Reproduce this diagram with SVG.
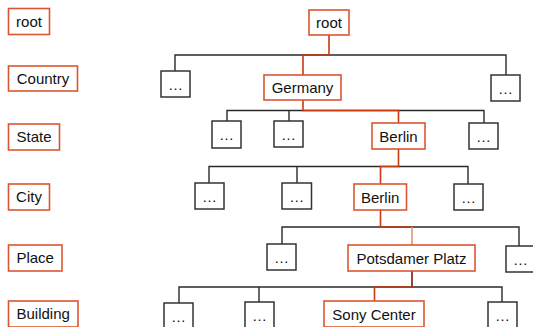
<svg xmlns="http://www.w3.org/2000/svg" width="533" height="327" viewBox="0 0 533 327">
<style>
.lbl{fill:#fff;stroke:#db5530;stroke-width:1.6}
.node{fill:#fff;stroke:#db5530;stroke-width:1.6}
.dots{fill:#fff;stroke:#333;stroke-width:1.5}
text{font-family:"Liberation Sans",Arial,sans-serif;font-size:15px;fill:#111;text-anchor:middle}
.tl{text-anchor:start}
.edge{fill:none;stroke:#2a2a2a;stroke-width:1.4}
.hot{fill:none;stroke:#c83a10;stroke-width:1.6}
</style>
<g id="levels">
<g id="lvl-root"><rect class="lbl" x="8.5" y="8.5" width="41" height="26"/><text x="29" y="26.5">root</text></g>
<g id="lvl-country"><rect class="lbl" x="8.5" y="66" width="69" height="25"/><text x="43" y="83.5">Country</text></g>
<g id="lvl-state"><rect class="lbl" x="8.5" y="124" width="51" height="26"/><text x="34" y="142">State</text></g>
<g id="lvl-city"><rect class="lbl" x="8.5" y="184" width="41" height="26"/><text x="29" y="202">City</text></g>
<g id="lvl-place"><rect class="lbl" x="8.5" y="245" width="53.5" height="26"/><text x="35.2" y="263">Place</text></g>
<g id="lvl-building"><rect class="lbl" x="8.5" y="301" width="69.5" height="26"/><text x="43.2" y="319">Building</text></g>
</g>
<g id="connectors">
<path class="edge" d="M175 71V55H506V75"/>
<path class="edge" d="M227 121V110.5H484V123M289 110.5V121"/>
<path class="edge" d="M209 183V166.5H468V184M297 166.5V183"/>
<path class="edge" d="M282 244V227H519V246"/>
<path class="edge" d="M179 303V287H502V302M259 287V302"/>
<path class="hot" d="M329 35V55H303V75"/>
<path class="hot" d="M303 100V110.5H398.5V123"/>
<path class="hot" d="M398.5 149V166.5H380.5V184"/>
<path class="hot" d="M380.5 210V227H412"/>
<path class="hot" style="stroke:#e8907a" d="M412 227V245"/>
<path class="hot" style="stroke:#7a1a05" d="M412 271V287"/>
<path class="hot" d="M412 287H374.5V301"/>
</g>
<g id="n-root"><rect class="node" x="309" y="10" width="40" height="25"/><text x="329" y="28">root</text></g>
<g id="n-dots-c1"><rect class="dots" x="161" y="71" width="29" height="26"/><text x="175.5" y="90">…</text></g>
<g id="n-germany"><rect class="node" x="264" y="75" width="77" height="25"/><text x="302.5" y="93">Germany</text></g>
<g id="n-dots-c2"><rect class="dots" x="491" y="75" width="29" height="26"/><text x="505.5" y="94">…</text></g>
<g id="n-dots-s1"><rect class="dots" x="212" y="121" width="29" height="27"/><text x="226.5" y="140">…</text></g>
<g id="n-dots-s2"><rect class="dots" x="274" y="121" width="29" height="26"/><text x="288.5" y="140">…</text></g>
<g id="n-berlin-state"><rect class="node" x="372" y="123" width="53" height="26"/><text x="398.5" y="141.5">Berlin</text></g>
<g id="n-dots-s3"><rect class="dots" x="469" y="123" width="29" height="26"/><text x="483.5" y="142">…</text></g>
<g id="n-dots-ci1"><rect class="dots" x="195" y="183" width="29" height="26"/><text x="209.5" y="202">…</text></g>
<g id="n-dots-ci2"><rect class="dots" x="282" y="183" width="29.5" height="26"/><text x="296.7" y="202">…</text></g>
<g id="n-berlin-city"><rect class="node" x="354" y="184" width="52.5" height="26"/><text x="380.2" y="202.5">Berlin</text></g>
<g id="n-dots-ci3"><rect class="dots" x="454" y="184" width="29" height="26"/><text x="468.5" y="203">…</text></g>
<g id="n-dots-p1"><rect class="dots" x="267" y="244" width="29" height="26"/><text x="281.5" y="263">…</text></g>
<g id="n-potsdamer"><rect class="node" x="348" y="245" width="127" height="26"/><text x="411.5" y="263.5">Potsdamer Platz</text></g>
<g id="n-dots-p2"><rect class="dots" x="506" y="246" width="29" height="26"/><text x="520.5" y="265">…</text></g>
<g id="n-dots-b1"><rect class="dots" x="164" y="303" width="29" height="26"/><text x="178.5" y="322">…</text></g>
<g id="n-dots-b2"><rect class="dots" x="245" y="302" width="29" height="26"/><text x="259.5" y="321">…</text></g>
<g id="n-sony"><rect class="node" x="324" y="301" width="100" height="26"/><text x="374" y="319.5">Sony Center</text></g>
<g id="n-dots-b3"><rect class="dots" x="488" y="302" width="29" height="26"/><text x="502.5" y="321">…</text></g>
</svg>
